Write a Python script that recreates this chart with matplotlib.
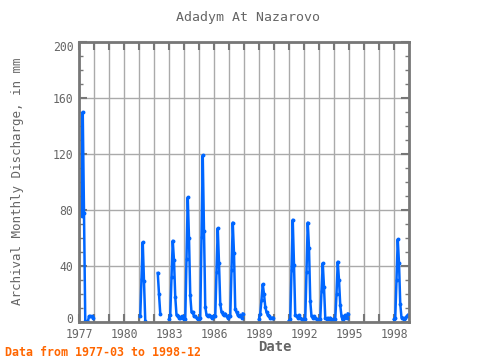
import matplotlib
matplotlib.use("Agg")
import matplotlib.pyplot as plt
import matplotlib.transforms as mtransforms
import numpy as np

# monthly discharge segments (mm); each list starts at the given year-month
start_1977 = (1977, 3)
q_1977 = [76, 150, 78, 1, 0, 0, 4, 4, 4, 3]
start_1981 = (1981, 2)
q_1981 = [4, 31, 57, 29, 1]
start_1982 = (1982, 4)
q_1982 = [35, 20, 6]
start_1983 = (1983, 1)
q_1983_87 = [2, 5, 32, 58, 44, 18, 5, 4, 3, 3, 4, 3,
             2, 2, 45, 89, 60, 19, 7, 7, 4, 4, 3, 2,
             2, 3, 61, 119, 65, 11, 5, 4, 5, 4, 3, 4,
             4, 4, 36, 67, 42, 13, 7, 6, 5, 6, 4, 3,
             4, 4, 37, 71, 49, 9, 7, 5, 4, 5, 3, 6]
start_1989 = (1989, 1)
q_1989 = [2, 6, 16, 27, 20, 11, 7, 5, 4, 3, 3, 3]
start_1991 = (1991, 1)
q_1991_94 = [1, 2, 37, 73, 41, 5, 4, 3, 5, 3, 2, 1,
             2, 2, 36, 71, 53, 15, 4, 3, 4, 3, 2, 1,
             1, 2, 22, 42, 25, 3, 2, 3, 2, 3, 1, 2,
             1, 2, 20, 43, 30, 12, 4, 1, 3, 5, 3, 6]
start_1998 = (1998, 1)
q_1998 = [2, 3, 30, 59, 42, 13, 3, 3, 2, 3, 4, 5]

segments = [(start_1977, q_1977), (start_1981, q_1981), (start_1982, q_1982),
            (start_1983, q_1983_87), (start_1989, q_1989),
            (start_1991, q_1991_94), (start_1998, q_1998)]

gray = "#666666"
blue = "#0066ff"

fig = plt.figure(figsize=(4.8, 3.6), dpi=100)
ax = fig.add_axes([79 / 480, 38 / 360, 330 / 480, 280 / 360])

for (yr, mo), vals in segments:
    t = [yr + (mo - 1 + i) / 12 for i in range(len(vals))]
    ax.plot(t, vals, color=blue, lw=1.8, marker="o", ms=1.8, mec=blue, mfc=blue)

ax.set_xlim(1977, 1999)
ax.set_ylim(0, 200)

years = np.arange(1977, 1999)
ax.set_xticks(years)
ax.set_xticklabels([str(y) if (y - 1977) % 3 == 0 else "" for y in years])
ax.set_yticks(np.arange(0, 201, 40))
ax.set_yticks(np.arange(0, 201, 10), minor=True)

ax.grid(True, which="major", color="#aaaaaa", lw=1)
ax.set_axisbelow(True)
for s in ax.spines.values():
    s.set_color("#777777")
    s.set_linewidth(2)

ax.tick_params(which="major", direction="in", length=6, width=1.5, color="#777777",
               top=True, right=True, labelsize=8.3, labelcolor=gray, pad=4)
ax.tick_params(which="minor", direction="in", length=3, width=1, color="#777777",
               top=False, bottom=False, left=True, right=True)
for lab in ax.get_xticklabels() + ax.get_yticklabels():
    lab.set_family("DejaVu Sans Mono")

# keep the end labels of the y axis inside the frame, as in the reference
ylabs = ax.get_yticklabels()
ylabs[0].set_transform(ylabs[0].get_transform() +
                       mtransforms.ScaledTranslation(0, 4 / 100, fig.dpi_scale_trans))
ylabs[-1].set_transform(ylabs[-1].get_transform() +
                        mtransforms.ScaledTranslation(0, -4 / 100, fig.dpi_scale_trans))

fig.text(248 / 480, 1 - 18 / 360, "Adadym At Nazarovo", ha="center", va="center",
         family="DejaVu Sans Mono", fontsize=9.5, color=gray)
fig.text(18 / 480, 1 - 181 / 360, "Archival Monthly Discharge, in mm", rotation=90,
         ha="center", va="center", family="DejaVu Sans Mono", fontsize=9, color=gray)
fig.text(275 / 480, 1 - 347 / 360, "Date", ha="center", va="center",
         family="DejaVu Sans Mono", fontsize=10, fontweight="bold", color=gray)
fig.text(5 / 480, 1 - 352 / 360, "Data from 1977-03 to 1998-12", ha="left", va="center",
         family="DejaVu Sans Mono", fontsize=8.4, fontweight="bold", color="#ff6600")

fig.savefig("out.png", dpi=100)
